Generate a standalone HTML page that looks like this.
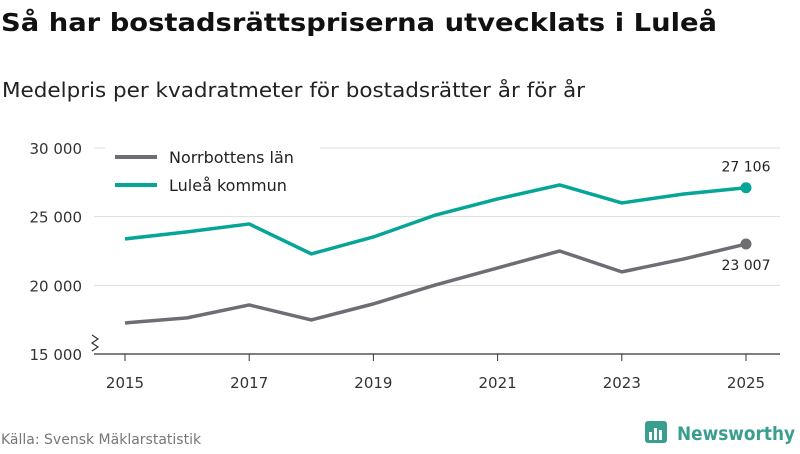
<!DOCTYPE html>
<html><head><meta charset="utf-8"><style>
body{margin:0;background:#fff;font-family:"DejaVu Sans","Liberation Sans",sans-serif;}
svg text{font-family:"DejaVu Sans","Liberation Sans",sans-serif;}
</style></head><body>
<svg width="800" height="450" viewBox="0 0 800 450" xmlns="http://www.w3.org/2000/svg">
<text x="1" y="31" font-size="25" font-weight="bold" fill="#111" textLength="716" lengthAdjust="spacingAndGlyphs">Så har bostadsrättspriserna utvecklats i Luleå</text>
<text x="2" y="97" font-size="20" fill="#222" textLength="583" lengthAdjust="spacingAndGlyphs">Medelpris per kvadratmeter för bostadsrätter år för år</text>
<g id="grid"></g><g id="series"></g>
<g>
<rect x="105" y="140" width="215" height="64" fill="#fff"/>
<line x1="115" y1="157" x2="157" y2="157" stroke="#6e6d74" stroke-width="4"/>
<text x="169" y="163" font-size="16" fill="#222">Norrbottens län</text>
<line x1="115" y1="185" x2="157" y2="185" stroke="#05a598" stroke-width="4"/>
<text x="169" y="191" font-size="16" fill="#222">Luleå kommun</text>
</g>
<path d="M92 335 l6 4 -6 4 6 4 -6 4" fill="none" stroke="#333" stroke-width="1.2"/>
<text x="1" y="444" font-size="14" fill="#777">Källa: Svensk Mäklarstatistik</text>
<g>
<rect x="645" y="421" width="22" height="22" rx="3" fill="#3a9e8f"/>
<rect x="649" y="432" width="3" height="8" fill="#fff"/><rect x="654" y="428" width="3" height="12" fill="#fff"/><rect x="659" y="430" width="3" height="10" fill="#fff"/>
<text x="677" y="440" font-size="19" font-weight="bold" fill="#3a9e8f" textLength="118" lengthAdjust="spacingAndGlyphs">Newsworthy</text>
</g>
</svg>
<script>
const years=[2015,2016,2017,2018,2019,2020,2021,2022,2023,2024,2025];
const norrbotten=[17260,17630,18570,17480,18650,20030,21270,22500,20980,21920,23007];
const lulea=[23380,23890,24470,22290,23520,25120,26290,27310,26000,26650,27106];
const yTicks=[15000,20000,25000,30000];
const yTickLabels=["15 000","20 000","25 000","30 000"];
const xTicks=[2015,2017,2019,2021,2023,2025];
const NS="http://www.w3.org/2000/svg";
const x=v=>125+(v-2015)*(746-125)/10;
const y=v=>354-(v-15000)*(354-148)/15000;
function mk(t,a,p){const e=document.createElementNS(NS,t);for(const k in a)e.setAttribute(k,a[k]);p.appendChild(e);return e;}
const grid=document.getElementById('grid'),ser=document.getElementById('series');
yTicks.forEach((v,i)=>{
 const l=mk('line',{x1:94,x2:780,y1:y(v),y2:y(v),stroke:i==0?'#333':'#ddd','stroke-width':i==0?1.2:1},grid);
 
 
 const t=mk('text',{x:82,y:y(v)+6,'font-size':15,'text-anchor':'end',fill:'#333'},grid);t.textContent=yTickLabels[i];
 
 
});
xTicks.forEach(v=>{
 const l=mk('line',{x1:x(v),x2:x(v),y1:354,y2:361,stroke:'#333'},grid);
 
 
 const t=mk('text',{x:x(v),y:388,'font-size':15,'text-anchor':'middle',fill:'#333'},grid);t.textContent=v;
 
 
});
function fmt(v){return String(v).replace(/\B(?=(\d{3})+$)/,' ');}
function line(data,color,name,dy){
 const p=mk('path',{d:data.map((v,i)=>(i?'L':'M')+x(years[i])+' '+y(v)).join(''),fill:'none',stroke:color,'stroke-width':3.5,'stroke-linejoin':'round'},ser);
 
 
 const n=data.length-1;
 const c=mk('circle',{cx:x(years[n]),cy:y(data[n]),r:5.5,fill:color},ser);
 
 
 const t=mk('text',{x:x(years[n]),y:y(data[n])+dy,'font-size':14,'text-anchor':'middle',fill:'#222'},ser);t.textContent=fmt(data[n]);
 
 
}
line(norrbotten,'#6e6d74','norrbotten',26);
line(lulea,'#05a598','lulea',-16);
</script>
</body></html>
